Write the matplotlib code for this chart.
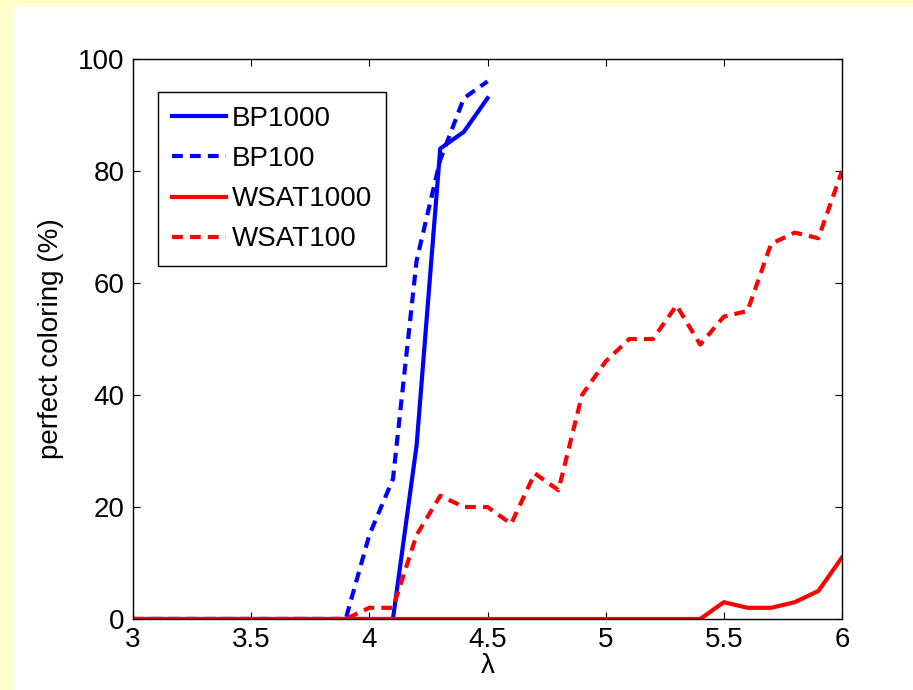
import numpy as np
import matplotlib
matplotlib.use("Agg")
import matplotlib.pyplot as plt
from matplotlib.patches import Rectangle

# ==============================
# Data
# ==============================
lam = np.round(np.arange(3.0, 6.01, 0.1), 1)
lam_bp = np.round(np.arange(3.0, 4.51, 0.1), 1)

bp1000 = [0, 0, 0, 0, 0, 0, 0, 0, 0, 0, 0, 0, 31, 84, 87, 93]
bp100 = [0, 0, 0, 0, 0, 0, 0, 0, 0, 0, 15, 25, 64, 82, 93, 96]
wsat1000 = [0, 0, 0, 0, 0, 0, 0, 0, 0, 0, 0, 0, 0, 0, 0, 0,
            0, 0, 0, 0, 0, 0, 0, 0, 0, 3, 2, 2, 3, 5, 11]
wsat100 = [0, 0, 0, 0, 0, 0, 0, 0, 0, 0, 2, 2, 15, 22, 20, 20,
           17, 26, 23, 40, 46, 50, 50, 56, 49, 54, 55, 67, 69, 68, 80]

xticks = [3, 3.5, 4, 4.5, 5, 5.5, 6]
xticklabels = ["3", "3.5", "4", "4.5", "5", "5.5", "6"]
yticks = [0, 20, 40, 60, 80, 100]

# ==============================
# Figure
# ==============================
plt.rcParams["font.family"] = ["Liberation Sans", "DejaVu Sans"]
plt.rcParams["font.size"] = 20

fig = plt.figure(figsize=(9.13, 6.9), dpi=100)
fig.patch.set_facecolor("#FFFFCC")
fig.patches.append(Rectangle((13 / 913, 0), 1, 1 - 7 / 690, transform=fig.transFigure,
                             facecolor="white", edgecolor="none", zorder=-1))

ax = fig.add_axes([133 / 913, 71 / 690, 709 / 913, 560 / 690])

dash = (2.6, 1.7)
ax.plot(lam_bp, bp1000, color="blue", lw=3, label="BP1000")
ax.plot(lam_bp, bp100, color="blue", lw=3, dashes=dash, label="BP100")
ax.plot(lam, wsat1000, color="red", lw=3, label="WSAT1000")
ax.plot(lam, wsat100, color="red", lw=3, dashes=dash, label="WSAT100")

ax.set_xlim(3, 6)
ax.set_ylim(0, 100)
ax.set_xticks(xticks)
ax.set_xticklabels(xticklabels)
ax.set_yticks(yticks)
ax.tick_params(direction="in", top=True, right=True, length=5, width=0.8, pad=6)
for s in ax.spines.values():
    s.set_linewidth(1.0)

ax.set_xlabel("λ", labelpad=0)
ax.set_ylabel("perfect coloring (%)", labelpad=10)

leg = ax.legend(loc="upper left", bbox_to_anchor=(0.0353, 0.941), fancybox=False,
                edgecolor="black", framealpha=1, handlelength=1.95, handletextpad=0.2,
                labelspacing=0.51, borderpad=0.5, borderaxespad=0)
leg.get_frame().set_linewidth(1.0)

fig.savefig("out.png", dpi=100, facecolor=fig.get_facecolor())
